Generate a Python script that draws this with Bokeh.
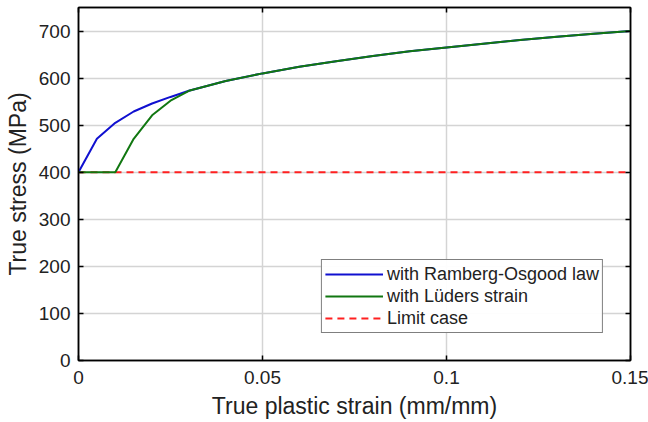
from bokeh.plotting import figure
from bokeh.models import LinearAxis, Legend, LegendItem, FixedTicker, Range1d
from bokeh.embed import file_html
from bokeh.resources import INLINE

# Data
ro_strain = [0.0, 0.005, 0.01, 0.015, 0.02, 0.025, 0.03, 0.04, 0.05, 0.06, 0.07, 0.08,
             0.09, 0.10, 0.11, 0.12, 0.13, 0.14, 0.15]
ro_stress = [400, 471, 505, 529, 546, 560, 573, 594, 610, 624, 636, 647,
             657, 665, 673, 681, 688, 694, 700]
lu_strain = [0.0, 0.005, 0.01, 0.015, 0.02, 0.025, 0.03, 0.04, 0.05, 0.06, 0.07, 0.08,
             0.09, 0.10, 0.11, 0.12, 0.13, 0.14, 0.15]
lu_stress = [400, 400, 400, 471, 521, 552, 573, 594, 610, 624, 636, 647,
             657, 665, 673, 681, 688, 694, 700]
limit_strain = [0.0, 0.15]
limit_stress = [400, 400]

x_ticks = [0, 0.05, 0.1, 0.15]
x_tick_labels = ["0", "0.05", "0.1", "0.15"]
y_ticks = [0, 100, 200, 300, 400, 500, 600, 700]

FONT = "Liberation Sans"

p = figure(width=648, height=422, frame_width=552, frame_height=353,
           x_range=Range1d(0, 0.15), y_range=Range1d(0, 750),
           output_backend="svg", toolbar_location=None,
           min_border_left=78, min_border_right=18, min_border_top=7, min_border_bottom=62)
p.background_fill_color = "white"
p.border_fill_color = "white"
p.outline_line_color = "black"
p.outline_line_width = 1.5

r_dash = p.line(limit_strain, limit_stress, line_color="#ff2020", line_width=2, line_dash="7 5")
r_ro = p.line(ro_strain, ro_stress, line_color="#1010d0", line_width=2)
r_lu = p.line(lu_strain, lu_stress, line_color="#117711", line_width=2)

for ax in (p.xaxis[0], p.yaxis[0]):
    ax.major_label_text_font = FONT
    ax.major_label_text_font_size = "19px"
    ax.major_label_text_color = "#222222"
    ax.axis_label_text_font = FONT
    ax.axis_label_text_font_size = "23px"
    ax.axis_label_text_font_style = "normal"
    ax.axis_label_text_color = "#222222"
    ax.major_tick_in = 5
    ax.major_tick_out = 0
    ax.minor_tick_line_color = None
    ax.axis_line_color = "black"
    ax.axis_line_width = 1.5
    ax.major_tick_line_width = 1.5

p.xaxis[0].ticker = FixedTicker(ticks=x_ticks)
p.xaxis[0].major_label_overrides = {t: l for t, l in zip(x_ticks, x_tick_labels)}
p.xaxis[0].axis_label = "True plastic strain (mm/mm)"
p.xaxis[0].major_label_standoff = 10
p.xaxis[0].axis_label_standoff = 6
p.yaxis[0].ticker = FixedTicker(ticks=y_ticks)
p.yaxis[0].axis_label = "True stress (MPa)"
p.yaxis[0].major_label_standoff = 8
p.yaxis[0].axis_label_standoff = 5

ax_r = LinearAxis(ticker=FixedTicker(ticks=y_ticks),
                  major_label_overrides={t: "" for t in y_ticks},
                  major_tick_in=5, major_tick_out=0, minor_tick_line_color=None,
                  axis_line_color="black", axis_line_width=1.5, major_tick_line_width=1.5)
ax_t = LinearAxis(ticker=FixedTicker(ticks=x_ticks),
                  major_label_overrides={t: "" for t in x_ticks},
                  major_tick_in=5, major_tick_out=0, minor_tick_line_color=None,
                  axis_line_color="black", axis_line_width=1.5, major_tick_line_width=1.5)
p.add_layout(ax_r, "right")
p.add_layout(ax_t, "above")

p.xgrid.ticker = FixedTicker(ticks=x_ticks)
p.ygrid.ticker = FixedTicker(ticks=y_ticks)
p.grid.grid_line_color = "#d4d4d4"
p.grid.grid_line_width = 1.5

legend = Legend(items=[
    LegendItem(label="with Ramberg-Osgood law", renderers=[r_ro]),
    LegendItem(label="with Lüders strain", renderers=[r_lu]),
    LegendItem(label="Limit case", renderers=[r_dash]),
], location="bottom_right")
legend.label_text_font = FONT
legend.label_text_font_size = "18px"
legend.label_text_color = "#222222"
legend.border_line_color = "black"
legend.border_line_width = 1.5
legend.glyph_width = 58
legend.glyph_height = 22
legend.label_height = 22
legend.spacing = 0
legend.padding = 3
legend.margin = 27
legend.label_standoff = 4
p.add_layout(legend)

open("out.html", "w").write(file_html(p, INLINE))
